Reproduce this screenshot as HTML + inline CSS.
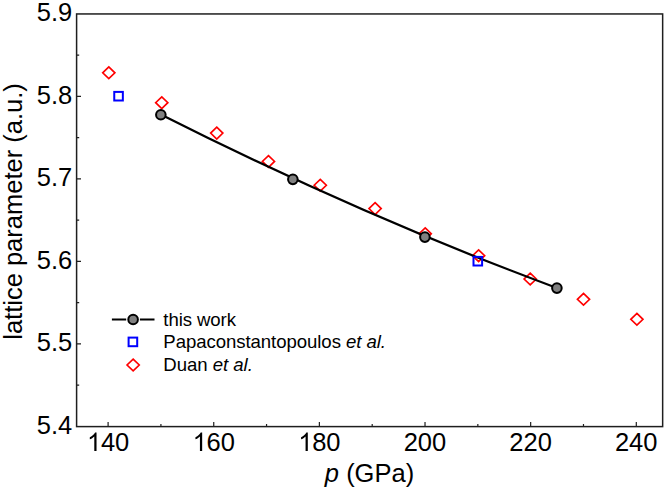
<!DOCTYPE html><html><head><meta charset="utf-8"><style>html,body{margin:0;padding:0;background:#fff;width:666px;height:490px;overflow:hidden}svg{display:block}text{font-family:"Liberation Sans",sans-serif}</style></head><body>
<svg width="666" height="490" viewBox="0 0 666 490">
<rect width="666" height="490" fill="#fff"/>
<path d="M108.10 426.6V422.0M213.74 426.6V422.0M319.38 426.6V422.0M425.02 426.6V422.0M530.66 426.6V422.0M636.30 426.6V422.0M160.92 426.6V424.0M266.56 426.6V424.0M372.20 426.6V424.0M477.84 426.6V424.0M583.48 426.6V424.0M76.6 343.90H81.0M76.6 261.40H81.0M76.6 178.90H81.0M76.6 96.40H81.0M76.6 385.15H79.19999999999999M76.6 302.65H79.19999999999999M76.6 220.15H79.19999999999999M76.6 137.65H79.19999999999999M76.6 55.15H79.19999999999999" stroke="#1e1e1e" stroke-width="1.2" fill="none"/>
<rect x="76.6" y="13.95" width="586.05" height="412.65" stroke="#1e1e1e" stroke-width="1.5" fill="none"/>
<text x="72.3" y="433.70" font-size="25.5" text-anchor="end">5.4</text>
<text x="72.3" y="351.20" font-size="25.5" text-anchor="end">5.5</text>
<text x="72.3" y="268.70" font-size="25.5" text-anchor="end">5.6</text>
<text x="72.3" y="186.20" font-size="25.5" text-anchor="end">5.7</text>
<text x="72.3" y="103.70" font-size="25.5" text-anchor="end">5.8</text>
<text x="72.3" y="21.20" font-size="25.5" text-anchor="end">5.9</text>
<text x="100.91" y="450.9" font-size="25.5">40</text>
<text x="206.55" y="450.9" font-size="25.5">60</text>
<text x="312.19" y="450.9" font-size="25.5">80</text>
<text x="424.92" y="450.9" font-size="25.5" text-anchor="middle">200</text>
<text x="530.56" y="450.9" font-size="25.5" text-anchor="middle">220</text>
<text x="636.20" y="450.9" font-size="25.5" text-anchor="middle">240</text>
<path d="M96.53 450.90L94.29 450.90L94.29 436.62Q93.48 437.39 92.16 438.16Q90.84 438.93 89.80 439.32L89.80 437.15Q91.68 436.27 93.08 435.01Q94.49 433.75 95.08 432.57L96.53 432.57ZM202.17 450.90L199.93 450.90L199.93 436.62Q199.12 437.39 197.80 438.16Q196.48 438.93 195.44 439.32L195.44 437.15Q197.32 436.27 198.72 435.01Q200.13 433.75 200.72 432.57L202.17 432.57ZM307.81 450.90L305.57 450.90L305.57 436.62Q304.76 437.39 303.44 438.16Q302.12 438.93 301.08 439.32L301.08 437.15Q302.96 436.27 304.36 435.01Q305.77 433.75 306.36 432.57L307.81 432.57Z" fill="#000"/>
<text x="369.5" y="482.0" font-size="25.5" text-anchor="middle"><tspan font-style="italic">p</tspan> (GPa)</text>
<text transform="translate(21.7 211.5) rotate(-90)" font-size="25.5" text-anchor="middle">lattice parameter (a.u.)</text>
<path d="M108.80 66.90L114.90 72.80L108.80 78.70L102.70 72.80ZM161.76 96.80L167.86 102.70L161.76 108.60L155.66 102.70ZM216.75 127.20L222.85 133.10L216.75 139.00L210.65 133.10ZM268.46 155.56L274.56 161.46L268.46 167.36L262.36 161.46ZM320.26 179.36L326.36 185.26L320.26 191.16L314.16 185.26ZM375.10 202.70L381.20 208.60L375.10 214.50L369.00 208.60ZM425.20 227.80L431.30 233.70L425.20 239.60L419.10 233.70ZM478.60 249.80L484.70 255.70L478.60 261.60L472.50 255.70ZM530.20 273.10L536.30 279.00L530.20 284.90L524.10 279.00ZM583.50 293.40L589.60 299.30L583.50 305.20L577.40 299.30ZM636.90 313.40L643.00 319.30L636.90 325.20L630.80 319.30Z" stroke="#ff0000" stroke-width="1.65" fill="none" stroke-linejoin="miter"/>
<path d="M160.85 114.47Q358.88 214.57 556.90 287.94" stroke="#000" stroke-width="2.2" fill="none"/>
<circle cx="160.85" cy="114.76" r="4.8" fill="#808080" stroke="#000" stroke-width="2.0"/>
<circle cx="292.85" cy="179.35" r="4.8" fill="#808080" stroke="#000" stroke-width="2.0"/>
<circle cx="424.9" cy="237.1" r="4.8" fill="#808080" stroke="#000" stroke-width="2.0"/>
<circle cx="556.9" cy="288.1" r="4.8" fill="#808080" stroke="#000" stroke-width="2.0"/>
<rect x="114.25" y="91.90" width="8.60" height="8.60" fill="none" stroke="#0000ff" stroke-width="2"/>
<rect x="473.50" y="256.90" width="8.60" height="8.60" fill="none" stroke="#0000ff" stroke-width="2"/>
<path d="M111.9 319.5H126.2M139.9 319.5H154.5" stroke="#000" stroke-width="2"/>
<circle cx="133.1" cy="319.5" r="4.8" fill="#808080" stroke="#000" stroke-width="2.0"/>
<rect x="128.60" y="337.60" width="8.60" height="8.60" fill="none" stroke="#0000ff" stroke-width="2"/>
<path d="M133.15 359.10L139.25 365.00L133.15 370.90L127.05 365.00Z" stroke="#ff0000" stroke-width="1.65" fill="none"/>
<text x="163.3" y="325.7" font-size="18.6" textLength="72.65" lengthAdjust="spacing">this work</text>
<text x="163.3" y="348.4" font-size="18.6" textLength="222.65" lengthAdjust="spacing">Papaconstantopoulos <tspan font-style="italic">et al.</tspan></text>
<text x="163.3" y="370.5" font-size="18.6" textLength="89.55" lengthAdjust="spacing">Duan <tspan font-style="italic">et al.</tspan></text>
</svg></body></html>
